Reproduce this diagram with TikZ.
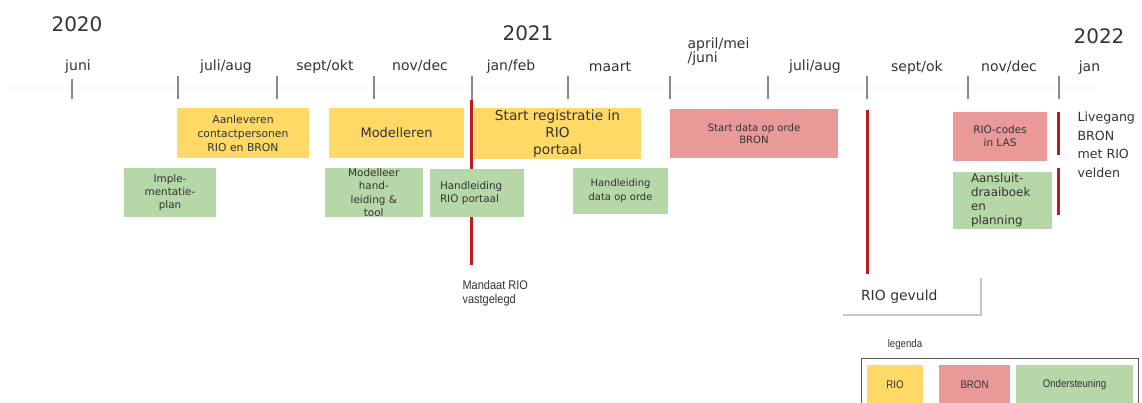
\documentclass[tikz,border=0pt]{standalone}
\usepackage{fontspec}
\setmainfont{DejaVu Sans}
\newfontfamily\arialfont{Liberation Sans}
\newfontfamily\narrowfont[FakeStretch=0.88]{Liberation Sans}
\definecolor{rioyellow}{HTML}{FFD966}
\definecolor{bronred}{HTML}{EA9999}
\definecolor{steungreen}{HTML}{B6D7A8}
\definecolor{mandred}{HTML}{BE1A1F}
\definecolor{tickgray}{HTML}{8A8A8A}
\definecolor{txtgray}{HTML}{333333}
\begin{document}
\begin{tikzpicture}[x=1pt, y=-1pt,
  box/.style={rectangle, inner sep=0pt, align=center, text=txtgray},
  rio/.style={box, fill=rioyellow},
  bron/.style={box, fill=bronred},
  steun/.style={box, fill=steungreen},
  year/.style={anchor=base, text=txtgray, font=\fontsize{20}{24}\selectfont},
  month/.style={anchor=base, text=txtgray, font=\fontsize{14}{13.5}\selectfont},
  tickline/.style={draw=tickgray, line width=2pt},
  redline/.style={draw=mandred, line width=3pt},
  small/.style={font=\fontsize{10.4}{13.3}\selectfont},
  legtext/.style={font=\narrowfont\fontsize{11}{13}\selectfont}]
\useasboundingbox[fill=white] (0,0) rectangle (1142,403);
\draw[tickgray!80, line width=1.3pt, line cap=round, dash pattern=on 0pt off 8pt] (13,88) -- (1100,88);
\draw[tickline] (72,79) -- (72,99);
\draw[tickline] (178,76) -- (178,99);
\draw[tickline] (277,76) -- (277,99);
\draw[tickline] (374,76) -- (374,99);
\draw[tickline] (472,76) -- (472,100);
\draw[tickline] (568,76) -- (568,99);
\draw[tickline] (670,76) -- (670,99);
\draw[tickline] (768,76) -- (768,99);
\draw[tickline] (867,76) -- (867,99);
\draw[tickline] (968,76) -- (968,99);
\draw[tickline] (1058.5,76) -- (1058.5,99);
\node[year] (y2020) at (77,32){2020};
\node[year] (y2021) at (528,41){2021};
\node[year] (y2022) at (1099,44){2022};
\node[month] (m1) at (78,71){juni};
\node[month] (m2) at (226,71){juli/aug};
\node[month] (m3) at (325,71){sept/okt};
\node[month] (m4) at (420,71){nov/dec};
\node[month] (m5) at (511,71){jan/feb};
\node[month] (m6) at (610,71.5){maart};
\node[month, anchor=base west, align=left] (m7) at (684,63){april/mei\\/juni};
\node[month] (m8) at (815,71){juli/aug};
\node[month] (m9) at (917,71.5){sept/ok};
\node[month] (m10) at (1009,71.5){nov/dec};
\node[month] (m11) at (1089.5,72){jan};
\coordinate (mand0) at (471.5,100);
\coordinate (mand1) at (471.5,265);
\coordinate (gevuld0) at (867,110);
\coordinate (gevuld1) at (867,274);
\coordinate (live0) at (1058.5,112);
\coordinate (live1) at (1058.5,155);
\coordinate (live2) at (1058.5,168);
\coordinate (live3) at (1058.5,215);
\draw[redline] (mand0) -- (mand1);
\draw[redline] (gevuld0) -- (gevuld1);
\draw[redline] (live0) -- (live1);
\draw[redline] (live2) -- (live3);
\node[rio, minimum width=132, minimum height=50, font=\fontsize{10.8}{14}\selectfont] (aanlev) at (243,133){Aanleveren\\contactpersonen\\RIO en BRON};
\node[rio, minimum width=135, minimum height=50, font=\fontsize{13}{16}\selectfont] (modelleren) at (396.5,133){Modelleren};
\node[rio, minimum width=167, minimum height=51, font=\fontsize{13.7}{17}\selectfont] (startreg) at (557.5,133.5){Start registratie in\\RIO\\portaal};
\node[bron, minimum width=168, minimum height=49, font=\fontsize{10.1}{12.5}\selectfont] (startdata) at (754,133.5){Start data op orde\\BRON};
\node[bron, minimum width=94, minimum height=49, font=\fontsize{10.5}{13}\selectfont] (riocodes) at (1000,136.5){RIO-codes\\in LAS};
\node[steun, small, minimum width=92, minimum height=49] (implplan) at (170,192.5){Imple-\\mentatie-\\plan};
\node[steun, small, minimum width=98.5, minimum height=49] (modhand) at (373.75,192.5){Modelleer\\hand-\\leiding \&\\tool};
\node[steun, small, align=left, inner xsep=10, text width=73.6, minimum height=48] (handrio) at (476.8,193){Handleiding\\RIO portaal};
\node[steun, minimum width=95, minimum height=46, font=\fontsize{10}{14}\selectfont] (handdata) at (620.5,191){Handleiding\\data op orde};
\node[steun, align=left, inner xsep=18, text width=63, minimum height=57, font=\fontsize{11.9}{14}\selectfont] (aansluit) at (1002.5,200.5){Aansluit-\\draaiboek\\en\\planning};
\node[anchor=west, align=left, text=txtgray, font=\fontsize{12.6}{18.5}\selectfont] (livegang) at (1074,145){Livegang\\BRON\\met RIO\\velden};
\node[anchor=west, align=left, text=txtgray, font=\narrowfont\fontsize{12.5}{14}\selectfont] (mandaat) at (459,293){Mandaat RIO\\vastgelegd};
\node[box, align=left, inner xsep=18, text width=102, minimum height=37, font=\fontsize{13.9}{16}\selectfont] (gevuld) at (912,296.5){RIO gevuld};
\draw[black!22, line width=1.5pt] (gevuld.north east) -- (gevuld.south east) -- (gevuld.south west);
\node[text=txtgray, legtext] (legenda) at (905,345){legenda};
\node[draw=black!65, line width=1pt, minimum width=277, minimum height=52, inner sep=0pt] (legbox) at (999.5,384){};
\node[rio, legtext, minimum width=56, minimum height=40] (legrio) at (895,385){RIO};
\node[bron, legtext, minimum width=71, minimum height=40] (legbron) at (974.5,385){BRON};
\node[steun, legtext, minimum width=117, minimum height=40] (legsteun) at (1074.5,385){Ondersteuning};
\end{tikzpicture}
\end{document}
